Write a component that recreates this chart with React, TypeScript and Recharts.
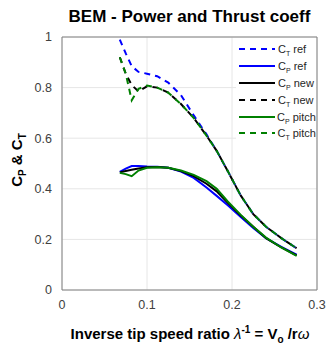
import { LineChart, Line, XAxis, YAxis, CartesianGrid, Legend, ReferenceLine } from "recharts"

// inverse tip speed ratio (x)
const lambdaInv = [0.068, 0.075, 0.082, 0.09, 0.1, 0.112, 0.125, 0.14, 0.155, 0.17, 0.182, 0.195, 0.21, 0.225, 0.24, 0.258, 0.276]

const ctRef = [0.99, 0.935, 0.885, 0.862, 0.855, 0.845, 0.82, 0.77, 0.69, 0.615, 0.55, 0.47, 0.375, 0.3, 0.25, 0.205, 0.165]
const cpRef = [0.467, 0.48, 0.49, 0.49, 0.488, 0.487, 0.483, 0.468, 0.443, 0.405, 0.372, 0.335, 0.29, 0.245, 0.205, 0.17, 0.14]
const cpNew = [0.465, 0.47, 0.475, 0.48, 0.485, 0.486, 0.483, 0.47, 0.45, 0.42, 0.39, 0.345, 0.295, 0.25, 0.205, 0.168, 0.137]
const ctNew = [0.92, 0.855, 0.81, 0.785, 0.805, 0.8, 0.78, 0.735, 0.68, 0.61, 0.55, 0.47, 0.375, 0.3, 0.25, 0.205, 0.165]
const cpPitch = [0.463, 0.458, 0.45, 0.472, 0.483, 0.485, 0.483, 0.472, 0.455, 0.43, 0.4, 0.35, 0.298, 0.25, 0.207, 0.168, 0.135]
const ctPitch = [0.92, 0.855, 0.75, 0.795, 0.808, 0.8, 0.78, 0.735, 0.68, 0.61, 0.55, 0.47, 0.375, 0.3, 0.25, 0.205, 0.165]

const xTicks = [0, 0.1, 0.2, 0.3]
const yTicks = [0, 0.2, 0.4, 0.6, 0.8, 1]

const toRows = (ys: number[]) => lambdaInv.map((x, i) => ({ x, y: ys[i] }))

const series = [
  { key: "ctRef", coeff: "T", label: "ref", values: ctRef, color: "#0000ff", dash: "6 5" },
  { key: "cpRef", coeff: "P", label: "ref", values: cpRef, color: "#0000ff", dash: undefined },
  { key: "cpNew", coeff: "P", label: "new", values: cpNew, color: "#000000", dash: undefined },
  { key: "ctNew", coeff: "T", label: "new", values: ctNew, color: "#000000", dash: "6 5" },
  { key: "cpPitch", coeff: "P", label: "pitch", values: cpPitch, color: "#008000", dash: undefined },
  { key: "ctPitch", coeff: "T", label: "pitch", values: ctPitch, color: "#008000", dash: "6 5" },
]

const font = "'Liberation Sans', Arial, Helvetica, sans-serif"

function LegendBox() {
  return (
    <div style={{ background: "#fff", width: 80, height: 103, paddingTop: 2, fontFamily: font, fontSize: 11, color: "#262626" }}>
      {series.map((s) => (
        <div key={s.key} style={{ display: "flex", alignItems: "center", height: 16.8 }}>
          <svg width={38} height={6} style={{ marginLeft: 2 }}>
            <line x1={1} y1={3} x2={37} y2={3} stroke={s.color} strokeWidth={2} strokeDasharray={s.dash} />
          </svg>
          <span style={{ marginLeft: 2, whiteSpace: "nowrap" }}>
            C<span style={{ fontSize: 7, position: "relative", top: 3 }}>{s.coeff}</span> {s.label}
          </span>
        </div>
      ))}
    </div>
  )
}

export default function App() {
  return (
    <div style={{ position: "absolute", left: 0, top: 0, width: 327, height: 347, background: "#fff", fontFamily: font }}>
      <div style={{ position: "absolute", left: 62, top: 7, width: 255, textAlign: "center", fontSize: 17, fontWeight: "bold", color: "#000", lineHeight: "normal", whiteSpace: "nowrap" }}>
        BEM - Power and Thrust coeff
      </div>
      <LineChart width={327} height={347} margin={{ top: 37, right: 10, bottom: 0, left: 0 }}>
        <CartesianGrid stroke="#e6e6e6" strokeWidth={1} />
        <XAxis
          dataKey="x"
          type="number"
          domain={[0, 0.3]}
          ticks={xTicks}
          height={57}
          tickLine={false}
          tickMargin={4}
          stroke="#808080"
          tick={{ fill: "#404040", fontSize: 12.5, fontFamily: font }}
          allowDuplicatedCategory={false}
        />
        <YAxis
          type="number"
          domain={[0, 1]}
          ticks={yTicks}
          width={62}
          tickLine={false}
          tickMargin={4}
          stroke="#808080"
          tick={{ fill: "#404040", fontSize: 12.5, fontFamily: font }}
        />
        <ReferenceLine y={1} stroke="#808080" />
        <ReferenceLine x={0.3} stroke="#808080" />
        {series.map((s) => (
          <Line
            key={s.key}
            data={toRows(s.values)}
            dataKey="y"
            type="linear"
            stroke={s.color}
            strokeWidth={2}
            strokeDasharray={s.dash}
            dot={false}
            isAnimationActive={false}
          />
        ))}
        <Legend
          layout="horizontal"
          verticalAlign="middle"
          align="center"
          content={() => <LegendBox />}
          wrapperStyle={{ left: 236, top: 39, width: 80, height: 103 }}
        />
      </LineChart>
      <div style={{ position: "absolute", left: 40, top: 325, width: 300, textAlign: "center", fontSize: 15, fontWeight: "bold", color: "#000", lineHeight: "18px", whiteSpace: "nowrap" }}>
        Inverse tip speed ratio <span style={{ fontWeight: "normal", fontStyle: "italic" }}>λ</span>
        <span style={{ fontSize: 10, position: "relative", top: -6 }}>-1</span> = V
        <span style={{ fontSize: 10, position: "relative", top: 4 }}>o</span> /r
        <span style={{ fontWeight: "normal", fontStyle: "italic" }}>ω</span>
      </div>
      <div style={{ position: "absolute", left: -83, top: 150, width: 200, height: 20, lineHeight: "20px", textAlign: "center", transform: "rotate(-90deg)", fontSize: 15, fontWeight: "bold", color: "#000", whiteSpace: "nowrap" }}>
        C<span style={{ fontSize: 10, position: "relative", top: 4 }}>P</span> &amp; C
        <span style={{ fontSize: 10, position: "relative", top: 4 }}>T</span>
      </div>
    </div>
  )
}
